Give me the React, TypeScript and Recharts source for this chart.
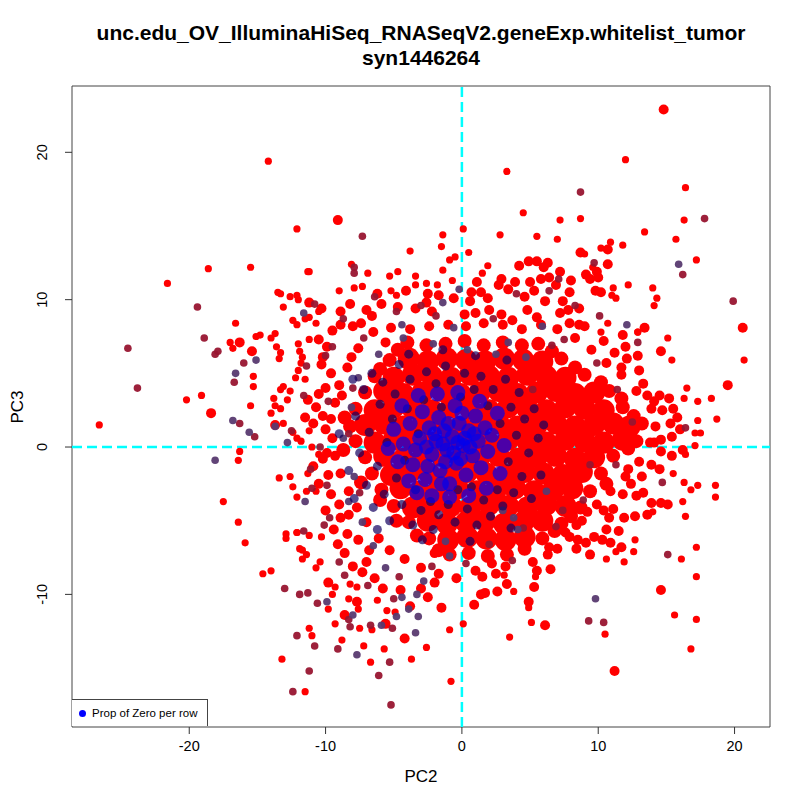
import React from 'react';
import { ScatterChart, Scatter, XAxis, YAxis, ReferenceLine, ReferenceArea } from 'recharts';

type P = [number, number];

// axis setup
const xTicks = [-20, -10, 0, 10, 20];
const yTicks = [-10, 0, 10, 20];
const xDomain: [number, number] = [-28.6, 22.6];
const yDomain: [number, number] = [-19.0, 24.5];

// dense red centre of the cloud
const redCore: P[] = [
  [-3.9, 6.0], [-2.5, 5.8], [-1.1, 6.0], [0.3, 5.9], [1.7, 5.8], [3.1, 6.0], [4.5, 5.9], [5.9, 5.8],
  [-5.0, 4.7], [-3.6, 4.9], [-2.2, 4.8], [-0.8, 4.7], [0.6, 4.9], [2.0, 4.8], [3.4, 4.7], [4.8, 4.9], [6.2, 4.8], [7.6, 4.7],
  [-5.7, 3.8], [-4.3, 3.6], [-2.9, 3.7], [-1.5, 3.8], [-0.1, 3.6], [1.3, 3.7], [2.7, 3.8], [4.1, 3.6], [5.5, 3.7], [6.9, 3.8], [8.3, 3.6], [9.7, 3.7],
  [-6.4, 2.5], [-5.0, 2.7], [-3.6, 2.6], [-2.2, 2.5], [-0.8, 2.7], [0.6, 2.6], [2.0, 2.5], [3.4, 2.7], [4.8, 2.6], [6.2, 2.5], [7.6, 2.7], [9.0, 2.6], [10.4, 2.5],
  [-7.1, 1.5], [-5.7, 1.6], [-4.3, 1.4], [-2.9, 1.5], [-1.5, 1.6], [-0.1, 1.4], [1.3, 1.5], [2.7, 1.6], [4.1, 1.4], [5.5, 1.5], [6.9, 1.6], [8.3, 1.4], [9.7, 1.5], [11.1, 1.6], [12.3, 1.4],
  [-6.4, 0.3], [-5.0, 0.5], [-3.6, 0.4], [-2.2, 0.3], [-0.8, 0.5], [0.6, 0.4], [2.0, 0.3], [3.4, 0.5], [4.8, 0.4], [6.2, 0.3], [7.6, 0.5], [9.0, 0.4], [10.4, 0.3], [11.8, 0.5],
  [-5.7, -0.6], [-4.3, -0.8], [-2.9, -0.7], [-1.5, -0.6], [-0.1, -0.8], [1.3, -0.7], [2.7, -0.6], [4.1, -0.8], [5.5, -0.7], [6.9, -0.6], [8.3, -0.8], [9.7, -0.7],
  [-5.2, -1.9], [-3.8, -1.7], [-2.4, -1.8], [-1.0, -1.9], [0.4, -1.7], [1.8, -1.8], [3.2, -1.9], [4.6, -1.7], [6.0, -1.8], [7.4, -1.9], [8.8, -1.7],
  [-4.5, -2.8], [-3.1, -3.0], [-1.7, -2.9], [-0.3, -2.8], [1.1, -3.0], [2.5, -2.9], [3.9, -2.8], [5.3, -3.0], [6.7, -2.9], [8.1, -2.8],
  [-3.6, -4.1], [-2.2, -3.9], [-0.8, -4.0], [0.6, -4.1], [2.0, -3.9], [3.4, -4.0], [4.8, -4.1], [6.2, -3.9], [7.6, -4.0],
  [-2.5, -5.0], [-1.1, -5.2], [0.3, -5.1], [1.7, -5.0], [3.1, -5.2], [4.5, -5.1], [5.9, -5.0],
  [-1.0, -6.3], [0.4, -6.1], [1.8, -6.2], [3.2, -6.3], [4.6, -6.1],
];

// the edge of the dense centre, in smaller points
const redEdge: P[] = [
  [-4.0, 7.1], [-2.6, 6.9], [-1.2, 7.0], [0.2, 7.2], [1.6, 6.9], [3.0, 7.1], [4.4, 6.9], [5.6, 7.0],
  [-5.3, 5.9], [7.3, 6.0], [-6.4, 4.8], [9.0, 4.9], [-7.1, 3.7], [10.8, 3.8], [-7.8, 2.6], [11.8, 2.7],
  [-8.2, 1.4], [13.2, 1.6], [-7.8, 0.4], [12.8, 0.4], [-7.1, -0.7], [11.1, -0.6], [-6.6, -1.8], [10.2, -1.8],
  [-5.9, -2.9], [9.4, -3.0], [-5.0, -4.0], [8.7, -4.1], [-3.9, -5.1], [7.3, -5.2], [-2.4, -6.2], [5.9, -6.2],
  [-0.9, -7.3], [0.5, -7.2], [1.9, -7.4], [3.3, -7.3], [-4.7, 6.6], [6.6, 6.5], [-6.0, 5.3], [8.3, 5.4],
  [-8.6, 2.0], [-8.7, -0.2], [12.2, -0.1], [-7.4, -2.4], [10.6, -2.5], [-6.0, -3.6], [-4.8, -5.0], [8.0, -4.7],
  [-3.3, -6.0], [6.8, -5.7], [-1.7, -7.0], [4.6, -6.9], [12.6, 2.1], [11.7, 3.3], [10.2, 4.4],
];

// medium points round the edge of the dense centre
const redRing: P[] = [
  [-6.5, 7.8], [-5.2, 8.1], [-7.6, 6.7], [-8.4, 5.4], [-9.0, 4.2], [-9.3, 3.0], [-9.6, 1.9], [-9.5, 0.6], [-9.3, -0.6], [-8.9, -1.8],
  [-8.3, -3.0], [-7.7, -4.1], [-7.0, -5.1], [-6.1, -6.2], [-5.3, -7.0], [-4.2, -7.6], [-3.0, -8.2], [-1.7, -8.6], [-0.4, -8.9], [1.0, -8.4],
  [5.2, -7.8], [6.4, -6.8], [7.6, -5.8], [8.8, -5.0], [9.9, -3.9], [10.9, -3.0], [12.0, -2.0], [13.0, -1.0], [13.8, 0.3], [14.2, 1.4],
  [13.9, 2.6], [12.8, 3.8], [11.7, 4.9], [10.6, 5.7], [9.5, 6.6], [8.3, 7.4], [7.0, 8.0], [5.8, 8.3], [4.4, 8.0], [3.0, 8.3],
  [1.6, 8.4], [0.3, 8.2], [-1.0, 8.3], [-2.4, 8.2], [-3.8, 8.0], [-5.6, 7.1], [4.6, -7.0], [3.2, -8.1], [2.2, -7.9], [-2.0, -7.2],
  [12.0, 6.8], [11.2, 6.4], [12.9, 6.2], [12.1, 6.0], [11.7, 5.4], [13.0, 5.2], [13.3, 4.3], [14.5, 3.5], [13.6, 3.5], [14.1, 3.1],
  [15.2, 3.3], [14.7, 2.5], [15.5, 2.6], [15.3, 1.6], [16.0, 1.2], [15.4, 0.7], [14.6, 0.5], [14.1, 0.3], [15.8, 2.0], [16.2, -0.2],
  [15.4, -0.6], [14.6, -0.3], [13.9, -1.2], [14.5, -1.5], [13.2, -2.0], [12.4, -2.5], [11.8, -3.2], [12.2, -1.5], [10.8, -4.8], [11.9, -4.8],
  [10.6, -5.6], [12.7, -4.7], [11.5, -5.7], [10.4, -4.3], [11.1, -4.2], [13.3, -3.1], [13.9, -3.8], [15.1, -3.9], [13.6, -4.6], [9.2, -4.4],
  [8.4, -5.3], [7.9, -6.1], [9.1, -6.5], [9.7, -6.1], [10.9, -6.5], [7.0, -6.9], [5.5, -8.4], [6.5, -8.3], [2.5, -8.6], [1.5, -8.8],
  [4.9, 12.6], [6.3, 12.5], [5.5, 12.6], [4.2, 12.3], [6.0, 12.2], [7.2, 11.9], [2.9, 11.4], [3.9, 11.2], [5.8, 11.4], [6.4, 11.5],
  [6.9, 11.0], [5.3, 10.6], [3.4, 10.7], [2.7, 11.0], [1.1, 11.2], [0.7, 10.5], [1.4, 10.5], [7.9, 10.5], [9.4, 11.4], [9.1, 11.7],
  [9.9, 11.9], [10.0, 11.5], [9.8, 10.6], [10.2, 10.5], [0.6, 9.9], [1.9, 10.1], [4.6, 10.2], [6.1, 9.9], [7.4, 9.9], [7.2, 9.1],
  [7.8, 9.3], [7.9, 8.4], [0.2, 9.0], [1.0, 9.1], [2.0, 9.3], [2.9, 9.0], [3.7, 8.6], [4.8, 9.3], [5.5, 8.8], [9.0, 8.2],
  [-11.2, 9.8], [-10.3, 9.4], [-8.9, 9.2], [-8.2, 9.7], [-7.0, 9.3], [-6.6, 8.9], [-5.9, 9.7], [-4.7, 9.5], [-3.4, 9.4], [-2.2, 9.2],
  [-10.3, 5.6], [-10.2, 6.1], [-9.9, 6.8], [-10.5, 7.3], [-9.5, 7.9], [-8.9, 8.3], [-8.0, 8.2], [-9.6, 5.0], [-10.0, 4.0], [-10.5, 3.6],
  [-11.3, 3.2], [-10.7, 2.7], [-10.2, 2.1], [-11.5, 2.0], [-10.0, 1.2], [-10.9, 1.6], [-10.2, -0.8], [-10.9, -1.3], [-9.8, -1.9], [-10.5, -2.5],
  [-9.6, -3.2], [-9.0, -3.9], [-10.0, -4.3], [-8.9, -4.8], [-9.4, -5.6], [-8.4, -5.9], [-9.1, -6.6], [-8.6, -7.2], [-8.0, -8.1], [-7.3, -8.5],
  [-7.0, -7.8], [-6.4, -8.9], [-5.8, -9.6], [-4.5, -9.7], [-3.0, -9.6], [-2.0, -9.2], [-3.8, -10.8], [-2.5, -10.2], [-1.5, -10.9], [0.9, -10.7],
  [1.4, -10.0], [2.6, -9.8], [5.3, -9.5], [4.9, -10.5], [-0.6, 10.1], [-1.7, 10.3], [-2.5, 10.4], [-2.6, 9.8], [-4.1, 10.6], [-6.2, 10.4],
  [-8.1, 6.1], [-8.8, 3.5], [-8.3, -4.6], [-7.6, -6.3], [-6.8, -7.0], [8.6, 8.3], [10.4, 7.2], [11.8, 7.6], [-7.4, 8.4], [-9.9, -0.4],
];

// small red points away from the centre
const redSmall: P[] = [
  [-14.2, 19.4], [-12.1, 14.8], [-18.6, 12.1], [-15.5, 12.2], [-11.3, 11.9], [-21.6, 11.1], [-13.5, 10.5], [-13.3, 10.4], [-12.6, 10.2], [-12.1, 10.3],
  [-12.0, 10.0], [-13.1, 9.5], [-10.5, 9.2], [-11.2, 8.8], [-11.5, 8.7], [-12.4, 8.6], [-12.1, 8.3], [-16.6, 8.4], [-10.7, 8.4], [-13.7, 7.7],
  [-14.8, 7.6], [-15.1, 7.5], [-14.0, 7.4], [-11.2, 7.3], [-26.6, 1.5], [-17.0, 7.1], [-16.8, 6.7], [-15.3, 4.8], [-15.3, 4.1], [-20.2, 3.2],
  [-19.1, 3.5], [-15.5, 2.8], [-16.3, -0.3], [-16.4, -0.9], [-13.4, 6.0], [-13.6, 6.8], [-13.3, 6.4], [-13.8, 3.3], [-13.7, 2.8], [-13.3, 2.6],
  [-14.0, 2.3], [-13.1, 1.6], [-12.8, 3.2], [-12.6, 3.8], [-13.3, 3.9], [-13.1, 4.1], [-12.1, 0.6], [-11.8, 0.4], [-11.2, 1.1], [-11.0, 0.0],
  [-10.5, -0.5], [-13.4, -2.1], [-12.6, -2.0], [-12.4, -2.7], [-11.3, -1.8], [-10.7, -3.0], [-12.1, -3.4], [-11.4, -3.0], [-12.0, 7.0], [-11.9, 6.5],
  [-11.7, 6.1], [-11.8, 5.7], [-12.0, 5.2], [-12.2, 4.7], [-11.5, 4.6], [-12.4, 1.0], [-10.3, -6.1], [-11.9, -6.9], [-11.4, -7.3], [-11.7, -7.6],
  [-10.4, -7.8], [-10.7, -8.2], [-12.1, -5.8], [-12.9, -6.2], [-11.2, -6.0], [-9.3, -9.5], [-8.2, -9.3], [-7.7, -9.5], [-9.5, -10.0], [-7.6, -11.0],
  [-9.8, -11.0], [-8.3, -10.3], [-6.2, -10.4], [-5.5, -11.1], [-4.9, -11.2], [-6.6, -12.4], [-7.5, -12.3], [-9.3, -12.0], [-11.2, -12.3], [-11.0, -12.8],
  [-8.8, -13.1], [-7.2, -13.5], [-5.7, -13.7], [-2.6, -13.6], [-0.9, -12.4], [-6.7, -14.6], [-3.7, -14.4], [-0.8, -15.9], [-13.2, -14.4], [-11.5, -16.6],
  [-17.5, -3.7], [-16.4, -5.1], [-15.9, -6.5], [-14.6, -8.6], [-14.0, -8.4], [-12.1, -5.8], [-12.9, -5.9], [-11.7, -7.0],
  [16.8, -13.7], [17.2, -11.7], [15.6, -11.4], [17.2, -8.8], [16.1, -7.6], [17.2, -6.8], [10.5, -12.7], [5.1, -11.9], [3.5, -12.9], [0.1, -12.0],
  [2.5, -8.6], [3.1, -8.7], [5.4, -8.8], [10.6, -7.6], [11.3, -7.1], [11.9, -7.8], [12.6, -7.1], [12.7, -6.3], [4.9, -10.9], [3.8, -9.8],
  [13.3, -3.1], [15.1, -3.9], [16.2, -3.7], [16.4, -4.7], [14.0, -4.4], [16.8, -2.9], [17.3, -2.6], [18.6, -2.6], [18.6, -3.4], [16.3, -2.4],
  [15.5, -1.8], [16.4, -0.5], [20.7, 5.9], [18.7, 1.9], [18.3, 3.3], [17.3, 3.1], [16.5, 4.0], [16.3, 3.3], [17.3, 1.8], [17.1, 0.95],
  [17.5, 0.95], [17.1, 0.1], [15.4, 5.9], [15.1, 7.4], [12.9, 7.8], [11.1, 10.8], [11.0, 10.3], [11.3, 10.1], [12.2, 11.0], [14.0, 10.8],
  [14.3, 10.1], [14.1, 9.6], [13.4, 14.6], [11.8, 13.7], [10.2, 13.5], [10.9, 13.9], [9.0, 13.1], [0.5, 13.2], [-0.9, 12.7], [-0.5, 12.9],
  [-1.4, 12.0], [-3.4, 11.6], [-5.3, 11.6], [-0.7, 11.3], [-9.0, 10.6], [-7.9, 10.8], [-7.3, 10.9], [-5.2, 10.6], [-4.8, 10.3], [-3.4, 11.0],
  [-2.6, 11.1], [-1.8, 11.0], [-11.2, 11.9], [-8.1, 12.4], [-6.9, 11.8], [-4.7, 11.9], [-3.8, 13.3], [-1.4, 14.4], [-1.5, 13.6], [0.1, 14.8],
  [2.8, 14.4], [5.5, 14.3], [7.0, 14.1], [4.5, 15.9], [7.2, 15.4], [8.7, 15.5], [16.3, 15.4], [15.7, 14.1], [3.3, 18.7], [12.0, 19.5],
  [16.4, 17.6], [17.2, 12.7], [10.2, 7.8], [10.7, 8.4], [12.9, 7.8], [1.5, 11.8], [9.6, 12.2], [1.9, 12.3],
];

// the larger red points
const redLarge: P[] = [
  [-9.1, 15.4], [14.8, 22.9], [-16.3, 7.1], [-15.4, 6.5], [-18.4, 2.3], [-13.7, 1.5], [8.0, 11.3], [5.0, 11.2], [10.7, 12.4], [8.6, 9.4],
  [13.4, 8.1], [10.7, 13.4], [8.7, 13.2], [20.6, 8.1], [19.5, 4.2], [14.6, 6.5], [11.2, -15.2], [14.6, -9.7], [6.1, -12.1], [1.7, -9.9],
  [3.3, -9.3], [6.3, -7.3], [8.4, -6.9], [9.4, -7.3], [11.7, -6.8], [10.3, -6.3], [8.5, -6.3], [12.8, -3.3], [14.6, -3.8], [-9.8, -9.2],
  [-7.7, -10.5], [-4.2, -13.0], [-5.6, -12.0], [-8.6, -11.4],
];

// dark red points (mixed colour)
const darkRed: P[] = [
  [-19.4, 9.5], [-10.8, 9.7], [-18.9, 7.4], [-24.5, 6.7], [-23.8, 4.0], [-18.1, 6.3], [-17.9, 6.5], [-16.0, 5.7], [-16.7, 4.4], [-16.3, 1.6],
  [-15.2, 0.7], [-7.3, 14.3], [-7.9, 12.2], [-7.9, 11.8], [-13.0, -9.6], [-11.9, -10.0], [-11.3, -9.9], [-10.6, -10.6], [-12.1, -12.8], [-10.8, -13.5],
  [-11.2, -15.2], [-12.4, -16.6], [-9.1, -13.7], [-8.2, -12.2], [-6.1, -15.5], [-5.3, -14.6], [-5.2, -17.5], [-5.1, -12.3], [-6.7, -12.1], [-8.3, -11.7],
  [9.3, -11.8], [10.4, -11.9], [15.1, -7.3], [14.7, -2.4], [16.4, 1.3], [12.9, 7.1], [10.1, 8.9], [8.3, 9.6], [9.7, 12.5], [-10.0, 6.2],
  [-9.5, 6.8], [-11.4, 5.5], [-11.6, 3.5], [-12.5, 1.1], [-11.1, -1.5], [-11.0, -2.8], [-10.1, -5.3], [-9.7, -4.8], [-11.6, -5.7], [-9.0, -7.8],
  [-8.6, -8.7], [-6.9, -9.4], [-5.0, -10.3], [2.0, -6.6], [4.5, -5.5], [7.4, -4.3], [6.9, -5.4], [-3.0, 9.6], [-1.9, 8.9], [2.3, 8.7],
  [4.0, 10.4], [6.4, 10.6], [7.1, 11.4], [-6.4, 10.2], [-4.8, 9.2], [-8.7, 8.7], [-9.8, 3.1], [-10.4, 0.0], [-9.9, -2.6], [-4.6, -8.8],
  [-2.2, -8.1], [0.3, -7.9], [3.7, -7.7], [8.9, -3.6], [11.3, -1.2], [12.5, 1.7], [11.4, 3.9], [9.9, 5.7], [7.5, 7.3], [19.9, 9.9],
  [16.2, 11.7], [17.8, 15.5], [8.7, 17.3], [-7.2, 7.4], [-8.0, 4.0], [-8.3, 0.9], [-7.5, -3.1], [6.6, 6.9], [9.4, -1.2], [5.2, 3.9],
];

// purple points (blue over red)
const purple: P[] = [
  [-11.6, 9.1], [-15.1, 5.9], [-16.6, 5.0], [-16.8, 1.8], [-18.1, -0.9], [-9.9, -10.5], [-8.0, -11.4], [-7.7, -14.1], [-3.4, -12.6], [-5.9, -12.1],
  [-4.8, -11.5], [-3.2, -11.5], [-3.9, -11.0], [-4.4, -10.2], [-3.3, -10.0], [-5.6, -8.2], [-2.8, -9.1], [-0.9, -7.4], [4.1, -5.6], [3.8, -4.8],
  [3.0, -4.3], [6.2, -3.0], [-1.2, -6.4], [-6.5, -6.7], [-7.3, -5.1], [-8.3, -3.7], [-7.9, -2.0], [-8.7, 0.6], [-8.1, 2.7], [-7.6, 4.7],
  [-6.1, 6.3], [-4.3, 7.4], [-2.1, 7.0], [0.4, 6.6], [-0.6, 8.1], [2.5, 6.3], [4.7, 6.1], [3.4, 7.1], [-0.2, 10.7], [-1.4, 9.8],
  [5.9, 8.2], [-13.7, 1.4], [-11.5, -3.7], [-12.8, 0.3], [-15.6, 1.0], [15.9, 12.4], [12.1, 8.3], [-4.4, 8.3], [9.8, -10.3],
];

// dark blue haze round the core
const blueHalo: P[] = [
  [-7.8, 2.1], [-7.5, -0.4], [-7.2, 3.9], [-7.0, -2.6], [-6.8, 1.0], [-6.6, 5.0], [-6.5, -4.1], [-6.2, -1.3], [-6.0, 2.9], [-5.8, 4.4],
  [-5.7, -3.2], [-5.5, 0.3], [-5.3, -5.0], [-5.1, 1.9], [-4.9, 3.6], [-4.8, -2.1], [-4.6, 5.6], [-4.4, -3.9], [-4.2, -0.9], [-4.0, 2.6],
  [-3.8, 4.6], [-3.6, -5.3], [-3.4, -2.9], [-3.2, 0.9], [-3.0, -4.3], [-2.8, 3.2], [-2.6, 5.1], [-2.3, -3.7], [-2.1, -5.6], [-1.9, 4.3],
  [-1.7, -4.6], [-1.5, 2.7], [-1.2, 5.5], [-1.0, -3.9], [-0.8, 4.5], [-0.5, -5.1], [-0.3, -2.9], [-0.1, 3.4], [0.2, 5.0], [0.4, -4.2],
  [0.7, -2.7], [0.9, 3.9], [1.1, -5.3], [1.4, 4.8], [1.6, -3.6], [1.9, 2.8], [2.1, -4.7], [2.3, 3.9], [2.6, -2.9], [2.8, 1.6],
  [3.0, -4.0], [3.2, 4.6], [3.4, -1.0], [3.6, 2.7], [3.8, -3.1], [4.0, 0.8], [4.2, 3.7], [4.4, -2.0], [4.6, 1.9], [4.9, -0.4],
  [5.1, -3.5], [5.3, 2.6], [5.6, 0.6], [-8.3, -1.6], [-8.0, 4.6], [-3.9, 6.3], [-1.4, 6.6], [1.0, 6.2], [3.3, 5.9], [-6.2, -5.6],
  [-2.9, -6.3], [0.6, -6.4], [3.6, -5.5], [5.8, -1.9], [6.0, 1.5], [-9.0, 0.9], [-7.9, -3.5],
];

// saturated blue core
const blueCore: P[] = [
  [-4.3, 0.2], [-3.8, 1.6], [-3.6, -1.2], [-3.1, 0.6], [-2.9, 2.4], [-2.7, -2.2], [-2.4, 1.3], [-2.2, -0.5], [-1.9, 0.4], [-1.7, 2.0],
  [-1.6, -1.6], [-1.3, 1.1], [-1.1, -0.2], [-0.9, -2.5], [-0.7, 0.7], [-0.5, 2.8], [-0.4, -1.1], [-0.2, 1.6], [0.1, 0.1], [0.3, -1.9],
  [0.5, 1.1], [0.8, -0.6], [1.0, 2.1], [1.2, 0.4], [1.4, -1.4], [1.7, 1.3], [1.9, -0.3], [2.2, 0.8], [-3.4, -0.2], [-2.5, -1.3],
  [-1.4, 0.2], [-0.6, -0.4], [0.2, 0.6], [0.6, 0.0], [-2.0, 0.9], [-1.0, 1.6], [-0.1, -0.8], [-3.9, -2.3], [-4.7, -1.0], [-5.0, 1.2],
  [-4.4, 2.8], [-3.2, 3.5], [-1.8, 3.6], [-0.3, 3.7], [1.3, 3.1], [2.6, 2.3], [3.1, 0.1], [2.8, -1.8], [1.8, -2.8], [0.5, -3.3],
  [-0.9, -3.4], [-2.2, -3.3], [-3.3, -3.1], [-5.4, -0.1], [-2.6, 0.0], [-1.2, -1.0], [0.0, 2.3], [-1.5, -2.5], [0.9, 0.9], [-0.3, 0.3],
];

const legendLabel = 'Prop of Zero per row';
const titleLines = ['unc.edu_OV_IlluminaHiSeq_RNASeqV2.geneExp.whitelist_tumor', 'syn1446264'];
const FONT = '"Liberation Sans", Arial, Helvetica, sans-serif';

const pts = (a: P[]) => a.map(([x, y]) => ({ x, y }));

const dot = (r: number, fill: string, opacity = 1) => (props: any) => {
  if (props.cx == null || props.cy == null) return <g />;
  return <circle cx={props.cx} cy={props.cy} r={r} fill={fill} fillOpacity={opacity} />;
};

const YTick = (props: any) => {
  const { x, y, payload } = props;
  return (
    <text x={x} y={y} transform={`rotate(-90 ${x} ${y})`} textAnchor="middle" fontSize={14.5} fontFamily={FONT} fill="#000">
      {payload.value}
    </text>
  );
};

export default function App() {
  return (
    <div style={{ position: 'absolute', left: 0, top: 0, width: 800, height: 800, background: '#fff', fontFamily: FONT }}>
      <ScatterChart width={800} height={800} margin={{ top: 86, right: 30, bottom: 33, left: 22 }}>
        <XAxis
          type="number"
          dataKey="x"
          domain={xDomain}
          ticks={xTicks}
          allowDataOverflow
          axisLine={false}
          tickLine={{ stroke: '#333' }}
          tickSize={7}
          tickMargin={7}
          height={40}
          tick={{ fontSize: 14.5, fill: '#000', fontFamily: FONT }}
        />
        <YAxis
          type="number"
          dataKey="y"
          domain={yDomain}
          ticks={yTicks}
          allowDataOverflow
          axisLine={false}
          tickLine={{ stroke: '#333' }}
          tickSize={7}
          tickMargin={18}
          width={50}
          tick={<YTick />}
        />
        <ReferenceArea x1={xDomain[0]} x2={xDomain[1]} y1={yDomain[0]} y2={yDomain[1]} fill="none" stroke="#444" strokeWidth={1} ifOverflow="visible" />
        <Scatter data={pts(redCore)} shape={dot(11, '#ff0000')} isAnimationActive={false} />
        <Scatter data={pts(redEdge)} shape={dot(7, '#ff0000')} isAnimationActive={false} />
        <Scatter data={pts(redRing)} shape={dot(5, '#ff0000')} isAnimationActive={false} />
        <Scatter data={pts(redSmall)} shape={dot(3.6, '#ff0000')} isAnimationActive={false} />
        <Scatter data={pts(redLarge)} shape={dot(5, '#ff0000')} isAnimationActive={false} />
        <Scatter data={pts(darkRed)} shape={dot(3.8, '#981530', 0.95)} isAnimationActive={false} />
        <Scatter data={pts(purple)} shape={dot(3.8, '#583a70', 0.95)} isAnimationActive={false} />
        <Scatter data={pts(blueHalo)} shape={dot(4.5, '#140060', 0.7)} isAnimationActive={false} />
        <Scatter data={pts(blueCore)} shape={dot(7.5, '#0000ee', 0.7)} isAnimationActive={false} />
        <ReferenceLine x={0} stroke="#00ffff" strokeWidth={2.5} strokeDasharray="10 5" />
        <ReferenceLine y={0} stroke="#00ffff" strokeWidth={2.5} strokeDasharray="10 5" />
      </ScatterChart>

      {titleLines.map((t, i) => (
        <div
          key={t}
          style={{ position: 'absolute', left: 0, width: 842, top: 21 + i * 25, textAlign: 'center', fontWeight: 'bold', fontSize: 21, lineHeight: '24px', color: '#000' }}
        >
          {t}
        </div>
      ))}
      <div style={{ position: 'absolute', left: 0, width: 842, top: 766, textAlign: 'center', fontSize: 17, lineHeight: '22px', color: '#000' }}>PC2</div>
      <div
        style={{ position: 'absolute', left: 7, top: 396, width: 22, height: 22, fontSize: 17, lineHeight: '22px', color: '#000', display: 'flex', alignItems: 'center', justifyContent: 'center' }}
      >
        <span style={{ transform: 'rotate(-90deg)', whiteSpace: 'nowrap' }}>PC3</span>
      </div>
      <div
        style={{ position: 'absolute', left: 72, top: 699, width: 136, height: 27, border: '1px solid #444', borderLeft: 'none', borderBottom: 'none', background: '#fff', boxSizing: 'border-box', display: 'flex', alignItems: 'center' }}
      >
        <span style={{ display: 'inline-block', width: 7, height: 7, borderRadius: '50%', background: '#0000ff', marginLeft: 7, marginRight: 6 }} />
        <span style={{ fontSize: 11.5, color: '#000', whiteSpace: 'nowrap' }}>{legendLabel}</span>
      </div>
    </div>
  );
}
